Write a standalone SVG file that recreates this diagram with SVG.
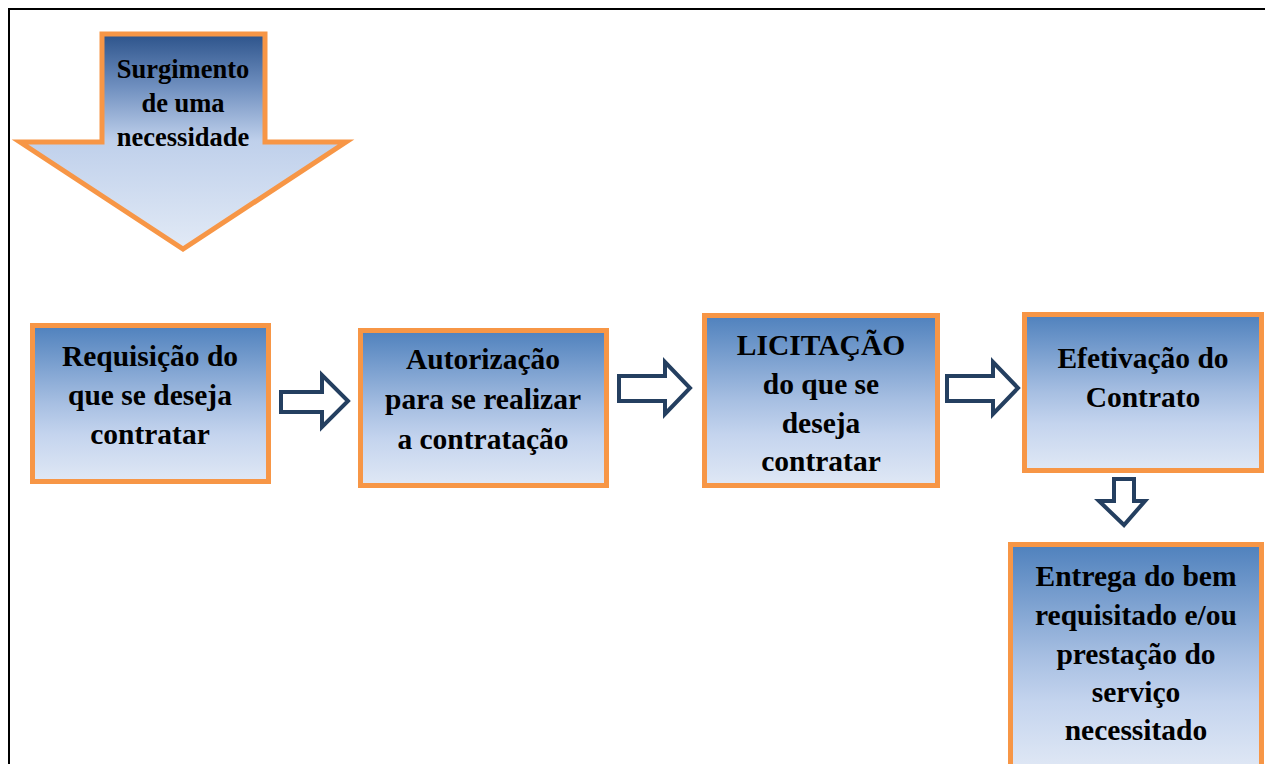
<svg xmlns="http://www.w3.org/2000/svg" width="1265" height="764" viewBox="0 0 1265 764">
<defs>
<linearGradient id="gBox" x1="0" y1="0" x2="0" y2="1">
<stop offset="0" stop-color="#4F81BD"/>
<stop offset="0.5" stop-color="#A7BFE2"/>
<stop offset="0.7" stop-color="#C4D4EE"/>
<stop offset="1" stop-color="#E0E8F5"/>
</linearGradient>
<linearGradient id="gArrow" gradientUnits="userSpaceOnUse" x1="0" y1="32" x2="0" y2="250">
<stop offset="0" stop-color="#2A5189"/>
<stop offset="0.25" stop-color="#6F8FBF"/>
<stop offset="0.5" stop-color="#BFD0EB"/>
<stop offset="1" stop-color="#E2EAF6"/>
</linearGradient>
<style>
.box{fill:url(#gBox);stroke:#F79646;stroke-width:5}
.big{fill:url(#gArrow);stroke:#F79646;stroke-width:5;stroke-linejoin:miter}
.conn{fill:#FFFFFF;stroke:#243F60;stroke-width:4;stroke-linejoin:miter}
text{font-family:"Liberation Serif","Times New Roman",serif;font-weight:bold;fill:#000;text-anchor:middle}
.t{font-size:29.5px}
.s{font-size:26.5px}
</style>
</defs>
<rect x="0" y="0" width="1265" height="764" fill="#FFFFFF"/>
<path d="M9 764 V9 H1265" fill="none" stroke="#000" stroke-width="2"/>

<g id="start">
<polygon class="big" points="102,34 265,34 265,142 346,142 183,249 20,142 102,142"/>
<text class="s" x="183" y="78">Surgimento</text>
<text class="s" x="183" y="112">de uma</text>
<text class="s" x="183" y="146">necessidade</text>
</g>

<g id="n1">
<rect class="box" x="32.5" y="325.5" width="236" height="156"/>
<text class="t" x="150" y="366">Requisição do</text>
<text class="t" x="150" y="405">que se deseja</text>
<text class="t" x="150" y="444">contratar</text>
</g>

<g id="n2">
<rect class="box" x="360.5" y="330.5" width="246" height="155"/>
<text class="t" x="483" y="369">Autorização</text>
<text class="t" x="483" y="409">para se realizar</text>
<text class="t" x="483" y="449">a contratação</text>
</g>

<g id="n3">
<rect class="box" x="704.5" y="315.5" width="233" height="170"/>
<text class="t" x="821" y="355">LICITAÇÃO</text>
<text class="t" x="821" y="394">do que se</text>
<text class="t" x="821" y="433">deseja</text>
<text class="t" x="821" y="471">contratar</text>
</g>

<g id="n4">
<rect class="box" x="1024.5" y="314.5" width="237" height="156"/>
<text class="t" x="1143" y="368">Efetivação do</text>
<text class="t" x="1143" y="407">Contrato</text>
</g>

<g id="n5">
<rect class="box" x="1010.5" y="544.5" width="251" height="225"/>
<text class="t" x="1136" y="586">Entrega do bem</text>
<text class="t" x="1136" y="625">requisitado e/ou</text>
<text class="t" x="1136" y="664">prestação do</text>
<text class="t" x="1136" y="702">serviço</text>
<text class="t" x="1136" y="740">necessitado</text>
</g>

<g id="connectors">
<polygon class="conn" points="281,392 322,392 322,375 348,401 322,427 322,412 281,412"/>
<polygon class="conn" points="619,376 665,376 665,362 690,388 665,414 665,401 619,401"/>
<polygon class="conn" points="947,376 993,376 993,362 1018,388 993,414 993,401 947,401"/>
<polygon class="conn" points="1114,479 1134,479 1134,501 1145,501 1124,525 1099,501 1114,501"/>
</g>
</svg>
